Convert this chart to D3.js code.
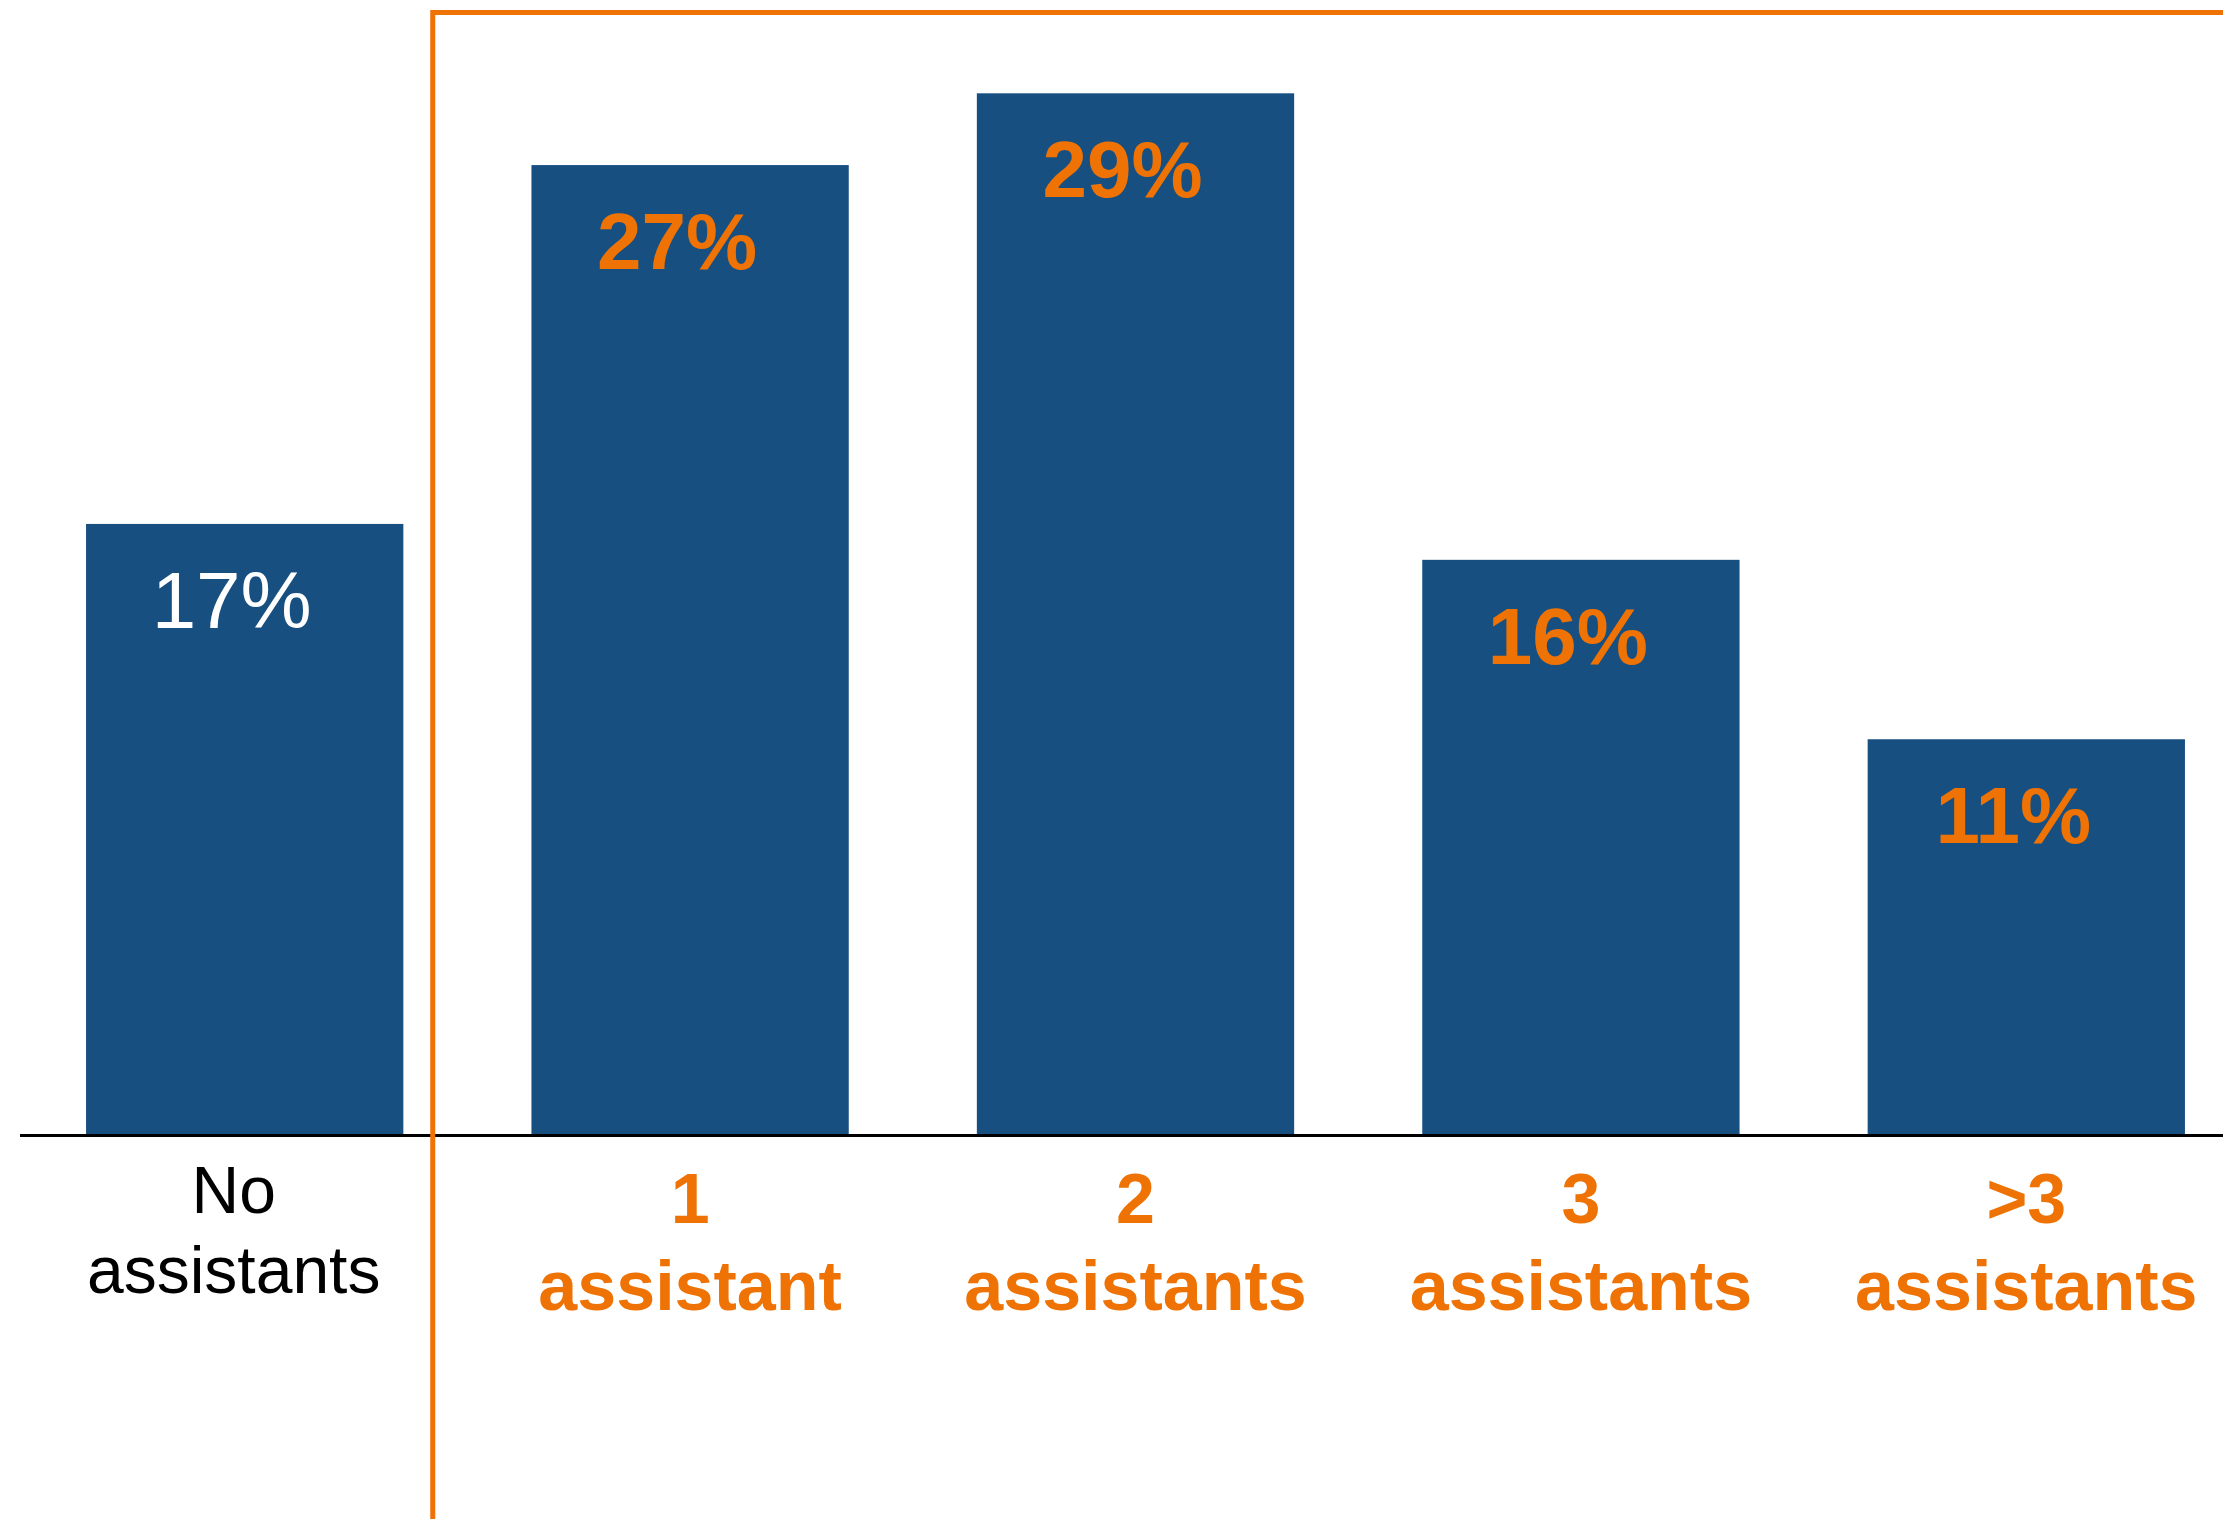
<!DOCTYPE html>
<html>
<head>
<meta charset="utf-8">
<script src="https://cdn.jsdelivr.net/npm/d3@7"></script>
<style>
  html, body { margin: 0; padding: 0; background: #ffffff; }
  svg { display: block; }
</style>
</head>
<body>
<svg id="chart" width="2223" height="1519"></svg>
<script>
// Share of respondents by number of assistants
const categories = ["none", "one", "two", "three", "more"];
const lineOne = ["No", "1", "2", "3", ">3"];
const lineTwo = ["assistants", "assistant", "assistants", "assistants", "assistants"];
const values = [17, 27, 29, 16, 11];
const valueLabels = ["17%", "27%", "29%", "16%", "11%"];

const W = 2223, H = 1519;
const BLUE = "#174f80";
const ORANGE = "#ef7204";
const FONT = "'Liberation Sans', Arial, Helvetica, sans-serif";

const svg = d3.select("#chart");

const baseline = 1134;
const x = d3.scaleBand()
  .domain(categories)
  .range([22, 2249])
  .paddingInner(0.2876)
  .paddingOuter(0.1438);

const y = d3.scaleLinear()
  .domain([0, 31.6])
  .range([baseline, 0]);

// bars
svg.append("g")
  .selectAll("rect")
  .data(categories)
  .join("rect")
  .attr("x", d => x(d))
  .attr("y", (d, i) => y(values[i]))
  .attr("width", x.bandwidth())
  .attr("height", (d, i) => baseline - y(values[i]))
  .attr("fill", BLUE);

// value labels inside the bar tops
svg.append("g")
  .selectAll("text")
  .data(categories)
  .join("text")
  .attr("x", d => x(d) + x.bandwidth() / 2 - 13)
  .attr("y", (d, i) => y(values[i]) + 104)
  .attr("text-anchor", "middle")
  .attr("font-family", FONT)
  .attr("font-size", 80)
  .attr("font-weight", (d, i) => i === 0 ? 400 : 700)
  .attr("fill", (d, i) => i === 0 ? "#ffffff" : ORANGE)
  .text((d, i) => valueLabels[i]);

// baseline axis with two-line category labels
const axis = svg.append("g")
  .attr("transform", `translate(0,${baseline + 1.5})`)
  .call(d3.axisBottom(x).tickSize(0).tickFormat(""));

axis.select(".domain")
  .attr("d", `M20,0H${W}`)
  .attr("stroke", "#000")
  .attr("stroke-width", 3);

axis.selectAll(".tick").each(function (d) {
  const i = categories.indexOf(d);
  const first = i === 0;
  const t = d3.select(this).select("text")
    .attr("y", 0)
    .attr("dy", null)
    .attr("text-anchor", "middle")
    .attr("font-family", FONT)
    .attr("font-size", first ? 66 : 70)
    .attr("font-weight", first ? 400 : 700)
    .attr("fill", first ? "#000" : ORANGE);
  t.selectAll("tspan")
    .data([lineOne[i], lineTwo[i]])
    .join("tspan")
    .attr("x", first ? -11 : 0)
    .attr("y", (s, k) => first ? (k === 0 ? 77 : 157) : (k === 0 ? 87 : 174))
    .text(s => s);
});

// highlight frame around the categories with assistants
svg.append("path")
  .attr("d", `M432.75,${H}V12.5H${W}`)
  .attr("fill", "none")
  .attr("stroke", ORANGE)
  .attr("stroke-width", 5);
</script>
</body>
</html>
